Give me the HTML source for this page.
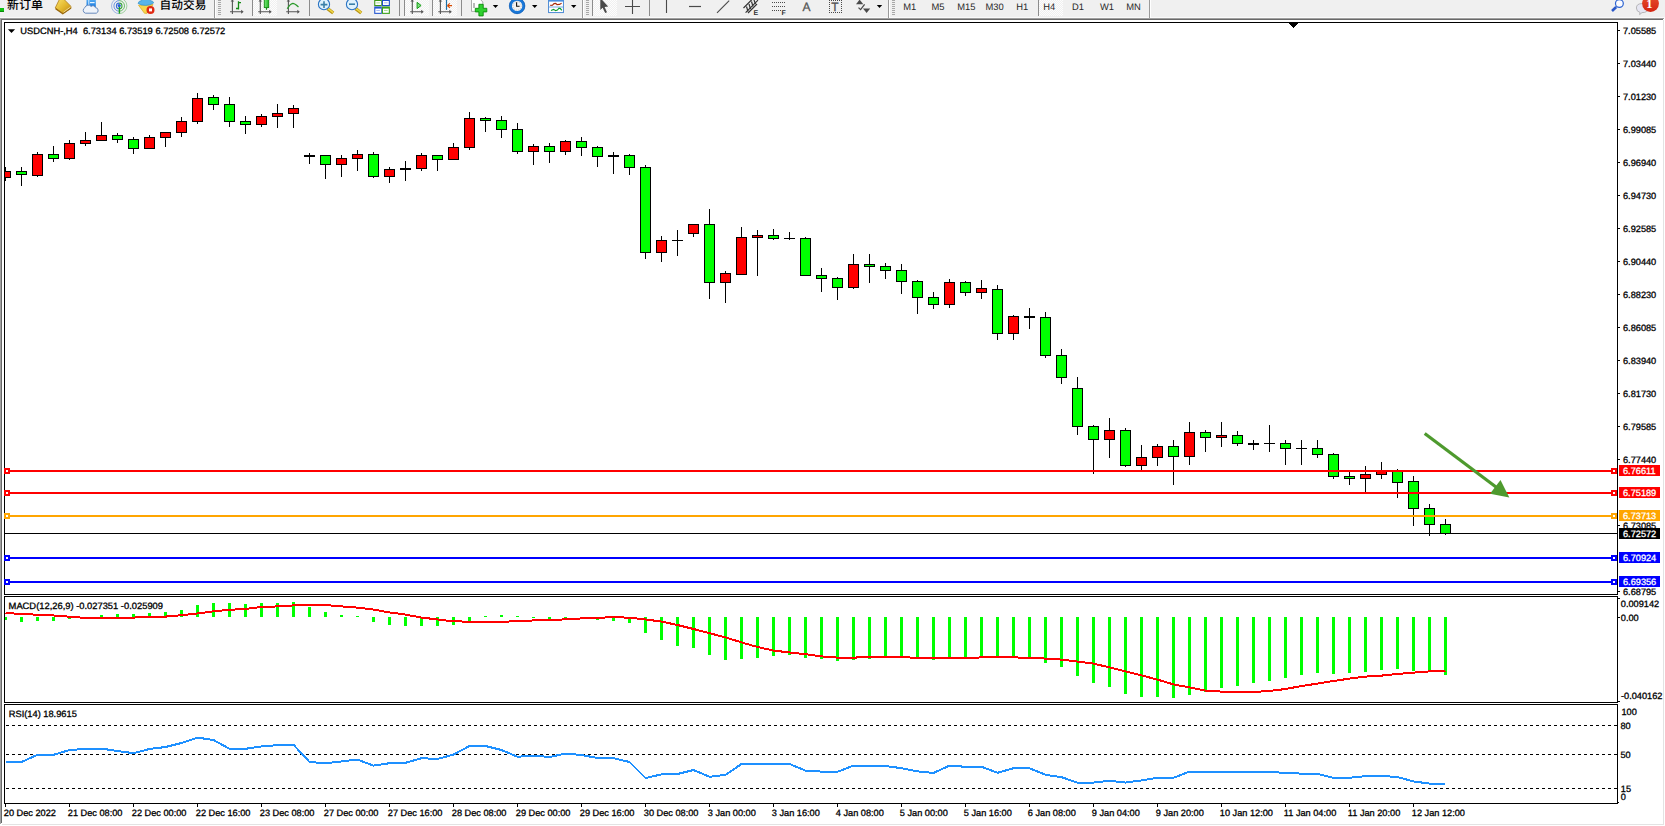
<!DOCTYPE html>
<html><head><meta charset="utf-8"><title>USDCNH H4</title>
<style>
html,body{margin:0;padding:0;background:#fff;}
body{width:1665px;height:826px;overflow:hidden;position:relative;font-family:"Liberation Sans","Noto Sans CJK SC",sans-serif;}
#tb{position:absolute;left:0;top:0;width:1665px;height:18px;background:#f0f0f0;overflow:hidden;}
#chart{position:absolute;left:0;top:0;}
#chart text{font-family:"Liberation Sans","Noto Sans CJK SC",sans-serif;}
#tb text{font-family:"Liberation Sans","Noto Sans CJK SC",sans-serif;}

</style></head><body>
<svg id="chart" width="1665" height="826" viewBox="0 0 1665 826" shape-rendering="crispEdges" text-rendering="geometricPrecision">
<rect x="0" y="18" width="1664" height="1" fill="#a0a0a0"/><rect x="0" y="19" width="1663" height="1" fill="#696969"/>
<rect x="0" y="18" width="1" height="806" fill="#a0a0a0"/><rect x="1" y="19" width="1" height="804" fill="#696969"/>
<rect x="1663" y="20" width="1" height="805" fill="#e3e3e3"/><rect x="2" y="824" width="1662" height="1" fill="#e3e3e3"/>
<rect x="4" y="22" width="1614" height="1" fill="#000"/>
<rect x="4" y="594" width="1614" height="1" fill="#000"/>
<rect x="4" y="22" width="1" height="573" fill="#000"/>
<rect x="1617" y="22" width="1" height="573" fill="#000"/>
<rect x="4" y="596" width="1614" height="1" fill="#000"/>
<rect x="4" y="702" width="1614" height="1" fill="#000"/>
<rect x="4" y="596" width="1" height="107" fill="#000"/>
<rect x="1617" y="596" width="1" height="107" fill="#000"/>
<rect x="4" y="704" width="1614" height="1" fill="#000"/>
<rect x="4" y="803" width="1614" height="1" fill="#000"/>
<rect x="4" y="704" width="1" height="100" fill="#000"/>
<rect x="1617" y="704" width="1" height="100" fill="#000"/>
<defs><clipPath id="cp"><rect x="5" y="23" width="1612" height="780"/></clipPath></defs><g clip-path="url(#cp)">
<rect x="5" y="167" width="1" height="14" fill="#000"/>
<rect x="0" y="171" width="11" height="7" fill="#000"/>
<rect x="1" y="172" width="9" height="5" fill="#ff0000"/>
<rect x="21" y="167" width="1" height="19" fill="#000"/>
<rect x="16" y="171" width="11" height="4" fill="#000"/>
<rect x="17" y="172" width="9" height="2" fill="#00ff00"/>
<rect x="37" y="152" width="1" height="25" fill="#000"/>
<rect x="32" y="154" width="11" height="22" fill="#000"/>
<rect x="33" y="155" width="9" height="20" fill="#ff0000"/>
<rect x="53" y="146" width="1" height="16" fill="#000"/>
<rect x="48" y="154" width="11" height="5" fill="#000"/>
<rect x="49" y="155" width="9" height="3" fill="#00ff00"/>
<rect x="69" y="140" width="1" height="20" fill="#000"/>
<rect x="64" y="143" width="11" height="16" fill="#000"/>
<rect x="65" y="144" width="9" height="14" fill="#ff0000"/>
<rect x="85" y="132" width="1" height="14" fill="#000"/>
<rect x="80" y="140" width="11" height="4" fill="#000"/>
<rect x="81" y="141" width="9" height="2" fill="#ff0000"/>
<rect x="101" y="122" width="1" height="19" fill="#000"/>
<rect x="96" y="135" width="11" height="6" fill="#000"/>
<rect x="97" y="136" width="9" height="4" fill="#ff0000"/>
<rect x="117" y="133" width="1" height="10" fill="#000"/>
<rect x="112" y="135" width="11" height="5" fill="#000"/>
<rect x="113" y="136" width="9" height="3" fill="#00ff00"/>
<rect x="133" y="137" width="1" height="17" fill="#000"/>
<rect x="128" y="139" width="11" height="10" fill="#000"/>
<rect x="129" y="140" width="9" height="8" fill="#00ff00"/>
<rect x="149" y="135" width="1" height="14" fill="#000"/>
<rect x="144" y="137" width="11" height="12" fill="#000"/>
<rect x="145" y="138" width="9" height="10" fill="#ff0000"/>
<rect x="165" y="132" width="1" height="15" fill="#000"/>
<rect x="160" y="132" width="11" height="6" fill="#000"/>
<rect x="161" y="133" width="9" height="4" fill="#ff0000"/>
<rect x="181" y="117" width="1" height="20" fill="#000"/>
<rect x="176" y="121" width="11" height="12" fill="#000"/>
<rect x="177" y="122" width="9" height="10" fill="#ff0000"/>
<rect x="197" y="93" width="1" height="31" fill="#000"/>
<rect x="192" y="98" width="11" height="24" fill="#000"/>
<rect x="193" y="99" width="9" height="22" fill="#ff0000"/>
<rect x="213" y="95" width="1" height="15" fill="#000"/>
<rect x="208" y="97" width="11" height="8" fill="#000"/>
<rect x="209" y="98" width="9" height="6" fill="#00ff00"/>
<rect x="229" y="97" width="1" height="30" fill="#000"/>
<rect x="224" y="104" width="11" height="18" fill="#000"/>
<rect x="225" y="105" width="9" height="16" fill="#00ff00"/>
<rect x="245" y="116" width="1" height="18" fill="#000"/>
<rect x="240" y="121" width="11" height="4" fill="#000"/>
<rect x="241" y="122" width="9" height="2" fill="#00ff00"/>
<rect x="261" y="114" width="1" height="13" fill="#000"/>
<rect x="256" y="116" width="11" height="9" fill="#000"/>
<rect x="257" y="117" width="9" height="7" fill="#ff0000"/>
<rect x="277" y="104" width="1" height="24" fill="#000"/>
<rect x="272" y="113" width="11" height="4" fill="#000"/>
<rect x="273" y="114" width="9" height="2" fill="#ff0000"/>
<rect x="293" y="105" width="1" height="23" fill="#000"/>
<rect x="288" y="108" width="11" height="6" fill="#000"/>
<rect x="289" y="109" width="9" height="4" fill="#ff0000"/>
<rect x="309" y="153" width="1" height="11" fill="#000"/>
<rect x="304" y="155" width="11" height="2" fill="#000"/>
<rect x="325" y="155" width="1" height="24" fill="#000"/>
<rect x="320" y="155" width="11" height="10" fill="#000"/>
<rect x="321" y="156" width="9" height="8" fill="#00ff00"/>
<rect x="341" y="155" width="1" height="22" fill="#000"/>
<rect x="336" y="158" width="11" height="7" fill="#000"/>
<rect x="337" y="159" width="9" height="5" fill="#ff0000"/>
<rect x="357" y="150" width="1" height="21" fill="#000"/>
<rect x="352" y="154" width="11" height="5" fill="#000"/>
<rect x="353" y="155" width="9" height="3" fill="#ff0000"/>
<rect x="373" y="152" width="1" height="26" fill="#000"/>
<rect x="368" y="154" width="11" height="23" fill="#000"/>
<rect x="369" y="155" width="9" height="21" fill="#00ff00"/>
<rect x="389" y="167" width="1" height="16" fill="#000"/>
<rect x="384" y="169" width="11" height="8" fill="#000"/>
<rect x="385" y="170" width="9" height="6" fill="#ff0000"/>
<rect x="405" y="161" width="1" height="20" fill="#000"/>
<rect x="400" y="168" width="11" height="2" fill="#000"/>
<rect x="421" y="153" width="1" height="18" fill="#000"/>
<rect x="416" y="155" width="11" height="14" fill="#000"/>
<rect x="417" y="156" width="9" height="12" fill="#ff0000"/>
<rect x="437" y="155" width="1" height="16" fill="#000"/>
<rect x="432" y="155" width="11" height="5" fill="#000"/>
<rect x="433" y="156" width="9" height="3" fill="#00ff00"/>
<rect x="453" y="143" width="1" height="17" fill="#000"/>
<rect x="448" y="147" width="11" height="13" fill="#000"/>
<rect x="449" y="148" width="9" height="11" fill="#ff0000"/>
<rect x="469" y="112" width="1" height="38" fill="#000"/>
<rect x="464" y="118" width="11" height="30" fill="#000"/>
<rect x="465" y="119" width="9" height="28" fill="#ff0000"/>
<rect x="485" y="117" width="1" height="15" fill="#000"/>
<rect x="480" y="118" width="11" height="3" fill="#000"/>
<rect x="481" y="119" width="9" height="1" fill="#00ff00"/>
<rect x="501" y="116" width="1" height="22" fill="#000"/>
<rect x="496" y="120" width="11" height="10" fill="#000"/>
<rect x="497" y="121" width="9" height="8" fill="#00ff00"/>
<rect x="517" y="123" width="1" height="31" fill="#000"/>
<rect x="512" y="129" width="11" height="23" fill="#000"/>
<rect x="513" y="130" width="9" height="21" fill="#00ff00"/>
<rect x="533" y="144" width="1" height="21" fill="#000"/>
<rect x="528" y="146" width="11" height="6" fill="#000"/>
<rect x="529" y="147" width="9" height="4" fill="#ff0000"/>
<rect x="549" y="143" width="1" height="20" fill="#000"/>
<rect x="544" y="146" width="11" height="6" fill="#000"/>
<rect x="545" y="147" width="9" height="4" fill="#00ff00"/>
<rect x="565" y="140" width="1" height="15" fill="#000"/>
<rect x="560" y="141" width="11" height="11" fill="#000"/>
<rect x="561" y="142" width="9" height="9" fill="#ff0000"/>
<rect x="581" y="137" width="1" height="19" fill="#000"/>
<rect x="576" y="141" width="11" height="7" fill="#000"/>
<rect x="577" y="142" width="9" height="5" fill="#00ff00"/>
<rect x="597" y="146" width="1" height="21" fill="#000"/>
<rect x="592" y="147" width="11" height="10" fill="#000"/>
<rect x="593" y="148" width="9" height="8" fill="#00ff00"/>
<rect x="613" y="152" width="1" height="22" fill="#000"/>
<rect x="608" y="155" width="11" height="2" fill="#000"/>
<rect x="629" y="154" width="1" height="21" fill="#000"/>
<rect x="624" y="155" width="11" height="13" fill="#000"/>
<rect x="625" y="156" width="9" height="11" fill="#00ff00"/>
<rect x="645" y="165" width="1" height="94" fill="#000"/>
<rect x="640" y="167" width="11" height="86" fill="#000"/>
<rect x="641" y="168" width="9" height="84" fill="#00ff00"/>
<rect x="661" y="236" width="1" height="26" fill="#000"/>
<rect x="656" y="240" width="11" height="13" fill="#000"/>
<rect x="657" y="241" width="9" height="11" fill="#ff0000"/>
<rect x="677" y="230" width="1" height="26" fill="#000"/>
<rect x="672" y="240" width="11" height="1" fill="#000"/>
<rect x="693" y="224" width="1" height="13" fill="#000"/>
<rect x="688" y="224" width="11" height="10" fill="#000"/>
<rect x="689" y="225" width="9" height="8" fill="#ff0000"/>
<rect x="709" y="209" width="1" height="90" fill="#000"/>
<rect x="704" y="224" width="11" height="59" fill="#000"/>
<rect x="705" y="225" width="9" height="57" fill="#00ff00"/>
<rect x="725" y="271" width="1" height="32" fill="#000"/>
<rect x="720" y="273" width="11" height="10" fill="#000"/>
<rect x="721" y="274" width="9" height="8" fill="#ff0000"/>
<rect x="741" y="227" width="1" height="48" fill="#000"/>
<rect x="736" y="237" width="11" height="38" fill="#000"/>
<rect x="737" y="238" width="9" height="36" fill="#ff0000"/>
<rect x="757" y="230" width="1" height="46" fill="#000"/>
<rect x="752" y="235" width="11" height="3" fill="#000"/>
<rect x="753" y="236" width="9" height="1" fill="#ff0000"/>
<rect x="773" y="229" width="1" height="11" fill="#000"/>
<rect x="768" y="235" width="11" height="4" fill="#000"/>
<rect x="769" y="236" width="9" height="2" fill="#00ff00"/>
<rect x="789" y="232" width="1" height="8" fill="#000"/>
<rect x="784" y="238" width="11" height="1" fill="#000"/>
<rect x="805" y="237" width="1" height="39" fill="#000"/>
<rect x="800" y="238" width="11" height="38" fill="#000"/>
<rect x="801" y="239" width="9" height="36" fill="#00ff00"/>
<rect x="821" y="268" width="1" height="24" fill="#000"/>
<rect x="816" y="275" width="11" height="4" fill="#000"/>
<rect x="817" y="276" width="9" height="2" fill="#00ff00"/>
<rect x="837" y="277" width="1" height="23" fill="#000"/>
<rect x="832" y="278" width="11" height="10" fill="#000"/>
<rect x="833" y="279" width="9" height="8" fill="#00ff00"/>
<rect x="853" y="254" width="1" height="35" fill="#000"/>
<rect x="848" y="264" width="11" height="24" fill="#000"/>
<rect x="849" y="265" width="9" height="22" fill="#ff0000"/>
<rect x="869" y="254" width="1" height="29" fill="#000"/>
<rect x="864" y="264" width="11" height="3" fill="#000"/>
<rect x="865" y="265" width="9" height="1" fill="#00ff00"/>
<rect x="885" y="263" width="1" height="16" fill="#000"/>
<rect x="880" y="266" width="11" height="5" fill="#000"/>
<rect x="881" y="267" width="9" height="3" fill="#00ff00"/>
<rect x="901" y="264" width="1" height="30" fill="#000"/>
<rect x="896" y="270" width="11" height="12" fill="#000"/>
<rect x="897" y="271" width="9" height="10" fill="#00ff00"/>
<rect x="917" y="280" width="1" height="34" fill="#000"/>
<rect x="912" y="281" width="11" height="17" fill="#000"/>
<rect x="913" y="282" width="9" height="15" fill="#00ff00"/>
<rect x="933" y="292" width="1" height="17" fill="#000"/>
<rect x="928" y="297" width="11" height="8" fill="#000"/>
<rect x="929" y="298" width="9" height="6" fill="#00ff00"/>
<rect x="949" y="279" width="1" height="29" fill="#000"/>
<rect x="944" y="282" width="11" height="23" fill="#000"/>
<rect x="945" y="283" width="9" height="21" fill="#ff0000"/>
<rect x="965" y="281" width="1" height="15" fill="#000"/>
<rect x="960" y="282" width="11" height="11" fill="#000"/>
<rect x="961" y="283" width="9" height="9" fill="#00ff00"/>
<rect x="981" y="280" width="1" height="19" fill="#000"/>
<rect x="976" y="288" width="11" height="5" fill="#000"/>
<rect x="977" y="289" width="9" height="3" fill="#ff0000"/>
<rect x="997" y="285" width="1" height="55" fill="#000"/>
<rect x="992" y="289" width="11" height="45" fill="#000"/>
<rect x="993" y="290" width="9" height="43" fill="#00ff00"/>
<rect x="1013" y="315" width="1" height="25" fill="#000"/>
<rect x="1008" y="316" width="11" height="18" fill="#000"/>
<rect x="1009" y="317" width="9" height="16" fill="#ff0000"/>
<rect x="1029" y="308" width="1" height="21" fill="#000"/>
<rect x="1024" y="316" width="11" height="2" fill="#000"/>
<rect x="1045" y="312" width="1" height="46" fill="#000"/>
<rect x="1040" y="317" width="11" height="39" fill="#000"/>
<rect x="1041" y="318" width="9" height="37" fill="#00ff00"/>
<rect x="1061" y="349" width="1" height="35" fill="#000"/>
<rect x="1056" y="355" width="11" height="23" fill="#000"/>
<rect x="1057" y="356" width="9" height="21" fill="#00ff00"/>
<rect x="1077" y="377" width="1" height="58" fill="#000"/>
<rect x="1072" y="388" width="11" height="39" fill="#000"/>
<rect x="1073" y="389" width="9" height="37" fill="#00ff00"/>
<rect x="1093" y="425" width="1" height="49" fill="#000"/>
<rect x="1088" y="426" width="11" height="14" fill="#000"/>
<rect x="1089" y="427" width="9" height="12" fill="#00ff00"/>
<rect x="1109" y="418" width="1" height="40" fill="#000"/>
<rect x="1104" y="430" width="11" height="10" fill="#000"/>
<rect x="1105" y="431" width="9" height="8" fill="#ff0000"/>
<rect x="1125" y="428" width="1" height="39" fill="#000"/>
<rect x="1120" y="430" width="11" height="36" fill="#000"/>
<rect x="1121" y="431" width="9" height="34" fill="#00ff00"/>
<rect x="1141" y="445" width="1" height="27" fill="#000"/>
<rect x="1136" y="457" width="11" height="9" fill="#000"/>
<rect x="1137" y="458" width="9" height="7" fill="#ff0000"/>
<rect x="1157" y="444" width="1" height="22" fill="#000"/>
<rect x="1152" y="446" width="11" height="12" fill="#000"/>
<rect x="1153" y="447" width="9" height="10" fill="#ff0000"/>
<rect x="1173" y="440" width="1" height="45" fill="#000"/>
<rect x="1168" y="446" width="11" height="11" fill="#000"/>
<rect x="1169" y="447" width="9" height="9" fill="#00ff00"/>
<rect x="1189" y="422" width="1" height="43" fill="#000"/>
<rect x="1184" y="432" width="11" height="25" fill="#000"/>
<rect x="1185" y="433" width="9" height="23" fill="#ff0000"/>
<rect x="1205" y="430" width="1" height="22" fill="#000"/>
<rect x="1200" y="432" width="11" height="6" fill="#000"/>
<rect x="1201" y="433" width="9" height="4" fill="#00ff00"/>
<rect x="1221" y="422" width="1" height="25" fill="#000"/>
<rect x="1216" y="435" width="11" height="3" fill="#000"/>
<rect x="1217" y="436" width="9" height="1" fill="#ff0000"/>
<rect x="1237" y="431" width="1" height="15" fill="#000"/>
<rect x="1232" y="435" width="11" height="9" fill="#000"/>
<rect x="1233" y="436" width="9" height="7" fill="#00ff00"/>
<rect x="1253" y="440" width="1" height="10" fill="#000"/>
<rect x="1248" y="443" width="11" height="2" fill="#000"/>
<rect x="1269" y="425" width="1" height="27" fill="#000"/>
<rect x="1264" y="443" width="11" height="1" fill="#000"/>
<rect x="1285" y="440" width="1" height="25" fill="#000"/>
<rect x="1280" y="443" width="11" height="6" fill="#000"/>
<rect x="1281" y="444" width="9" height="4" fill="#00ff00"/>
<rect x="1301" y="440" width="1" height="25" fill="#000"/>
<rect x="1296" y="448" width="11" height="1" fill="#000"/>
<rect x="1317" y="440" width="1" height="18" fill="#000"/>
<rect x="1312" y="448" width="11" height="7" fill="#000"/>
<rect x="1313" y="449" width="9" height="5" fill="#00ff00"/>
<rect x="1333" y="453" width="1" height="26" fill="#000"/>
<rect x="1328" y="454" width="11" height="23" fill="#000"/>
<rect x="1329" y="455" width="9" height="21" fill="#00ff00"/>
<rect x="1349" y="472" width="1" height="13" fill="#000"/>
<rect x="1344" y="476" width="11" height="3" fill="#000"/>
<rect x="1345" y="477" width="9" height="1" fill="#00ff00"/>
<rect x="1365" y="466" width="1" height="26" fill="#000"/>
<rect x="1360" y="474" width="11" height="5" fill="#000"/>
<rect x="1361" y="475" width="9" height="3" fill="#ff0000"/>
<rect x="1381" y="462" width="1" height="17" fill="#000"/>
<rect x="1376" y="470" width="11" height="5" fill="#000"/>
<rect x="1377" y="471" width="9" height="3" fill="#ff0000"/>
<rect x="1397" y="469" width="1" height="29" fill="#000"/>
<rect x="1392" y="471" width="11" height="12" fill="#000"/>
<rect x="1393" y="472" width="9" height="10" fill="#00ff00"/>
<rect x="1413" y="476" width="1" height="50" fill="#000"/>
<rect x="1408" y="481" width="11" height="28" fill="#000"/>
<rect x="1409" y="482" width="9" height="26" fill="#00ff00"/>
<rect x="1429" y="504" width="1" height="32" fill="#000"/>
<rect x="1424" y="508" width="11" height="17" fill="#000"/>
<rect x="1425" y="509" width="9" height="15" fill="#00ff00"/>
<rect x="1445" y="519" width="1" height="16" fill="#000"/>
<rect x="1440" y="524" width="11" height="10" fill="#000"/>
<rect x="1441" y="525" width="9" height="8" fill="#00ff00"/>
</g>
<rect x="5" y="533" width="1612" height="1" fill="#000"/>
<rect x="5" y="470" width="1612" height="2" fill="#ff0000"/>
<rect x="4" y="468" width="6" height="6" fill="#ff0000"/>
<rect x="6" y="470" width="2" height="2" fill="#fff"/>
<rect x="1611" y="468" width="6" height="6" fill="#ff0000"/>
<rect x="1613" y="470" width="2" height="2" fill="#fff"/>
<rect x="5" y="492" width="1612" height="2" fill="#ff0000"/>
<rect x="4" y="490" width="6" height="6" fill="#ff0000"/>
<rect x="6" y="492" width="2" height="2" fill="#fff"/>
<rect x="1611" y="490" width="6" height="6" fill="#ff0000"/>
<rect x="1613" y="492" width="2" height="2" fill="#fff"/>
<rect x="5" y="515" width="1612" height="2" fill="#ffa500"/>
<rect x="4" y="513" width="6" height="6" fill="#ffa500"/>
<rect x="6" y="515" width="2" height="2" fill="#fff"/>
<rect x="1611" y="513" width="6" height="6" fill="#ffa500"/>
<rect x="1613" y="515" width="2" height="2" fill="#fff"/>
<rect x="5" y="557" width="1612" height="2" fill="#0000ff"/>
<rect x="4" y="555" width="6" height="6" fill="#0000ff"/>
<rect x="6" y="557" width="2" height="2" fill="#fff"/>
<rect x="1611" y="555" width="6" height="6" fill="#0000ff"/>
<rect x="1613" y="557" width="2" height="2" fill="#fff"/>
<rect x="5" y="581" width="1612" height="2" fill="#0000ff"/>
<rect x="4" y="579" width="6" height="6" fill="#0000ff"/>
<rect x="6" y="581" width="2" height="2" fill="#fff"/>
<rect x="1611" y="579" width="6" height="6" fill="#0000ff"/>
<rect x="1613" y="581" width="2" height="2" fill="#fff"/>
<g shape-rendering="geometricPrecision"><line x1="1424.7" y1="433.5" x2="1497" y2="487.8" stroke="#4e9a2e" stroke-width="3.2"/><polygon points="1509.3,497.6 1500.5,479.9 1490,493.8" fill="#4e9a2e"/></g>
<rect x="5" y="617" width="2" height="3" fill="#00ff00"/>
<rect x="20" y="617" width="3" height="5" fill="#00ff00"/>
<rect x="36" y="617" width="3" height="4" fill="#00ff00"/>
<rect x="52" y="617" width="3" height="4" fill="#00ff00"/>
<rect x="68" y="617" width="3" height="2" fill="#00ff00"/>
<rect x="84" y="617" width="3" height="1" fill="#00ff00"/>
<rect x="100" y="615" width="3" height="2" fill="#00ff00"/>
<rect x="116" y="614" width="3" height="3" fill="#00ff00"/>
<rect x="132" y="614" width="3" height="3" fill="#00ff00"/>
<rect x="148" y="613" width="3" height="4" fill="#00ff00"/>
<rect x="164" y="612" width="3" height="5" fill="#00ff00"/>
<rect x="180" y="610" width="3" height="7" fill="#00ff00"/>
<rect x="196" y="605" width="3" height="12" fill="#00ff00"/>
<rect x="212" y="603" width="3" height="14" fill="#00ff00"/>
<rect x="228" y="603" width="3" height="14" fill="#00ff00"/>
<rect x="244" y="604" width="3" height="13" fill="#00ff00"/>
<rect x="260" y="603" width="3" height="14" fill="#00ff00"/>
<rect x="276" y="603" width="3" height="14" fill="#00ff00"/>
<rect x="292" y="602" width="3" height="15" fill="#00ff00"/>
<rect x="308" y="607" width="3" height="10" fill="#00ff00"/>
<rect x="324" y="612" width="3" height="5" fill="#00ff00"/>
<rect x="340" y="615" width="3" height="2" fill="#00ff00"/>
<rect x="356" y="616" width="3" height="1" fill="#00ff00"/>
<rect x="372" y="617" width="3" height="5" fill="#00ff00"/>
<rect x="388" y="617" width="3" height="8" fill="#00ff00"/>
<rect x="404" y="617" width="3" height="9" fill="#00ff00"/>
<rect x="420" y="617" width="3" height="9" fill="#00ff00"/>
<rect x="436" y="617" width="3" height="9" fill="#00ff00"/>
<rect x="452" y="617" width="3" height="8" fill="#00ff00"/>
<rect x="468" y="617" width="3" height="4" fill="#00ff00"/>
<rect x="484" y="616" width="3" height="1" fill="#00ff00"/>
<rect x="500" y="615" width="3" height="2" fill="#00ff00"/>
<rect x="516" y="616" width="3" height="1" fill="#00ff00"/>
<rect x="532" y="617" width="3" height="1" fill="#00ff00"/>
<rect x="548" y="617" width="3" height="3" fill="#00ff00"/>
<rect x="564" y="617" width="3" height="1" fill="#00ff00"/>
<rect x="580" y="617" width="3" height="1" fill="#00ff00"/>
<rect x="596" y="617" width="3" height="3" fill="#00ff00"/>
<rect x="612" y="617" width="3" height="4" fill="#00ff00"/>
<rect x="628" y="617" width="3" height="6" fill="#00ff00"/>
<rect x="644" y="617" width="3" height="16" fill="#00ff00"/>
<rect x="660" y="617" width="3" height="23" fill="#00ff00"/>
<rect x="676" y="617" width="3" height="29" fill="#00ff00"/>
<rect x="692" y="617" width="3" height="31" fill="#00ff00"/>
<rect x="708" y="617" width="3" height="38" fill="#00ff00"/>
<rect x="724" y="617" width="3" height="43" fill="#00ff00"/>
<rect x="740" y="617" width="3" height="42" fill="#00ff00"/>
<rect x="756" y="617" width="3" height="41" fill="#00ff00"/>
<rect x="772" y="617" width="3" height="39" fill="#00ff00"/>
<rect x="788" y="617" width="3" height="38" fill="#00ff00"/>
<rect x="804" y="617" width="3" height="41" fill="#00ff00"/>
<rect x="820" y="617" width="3" height="42" fill="#00ff00"/>
<rect x="836" y="617" width="3" height="44" fill="#00ff00"/>
<rect x="852" y="617" width="3" height="43" fill="#00ff00"/>
<rect x="868" y="617" width="3" height="42" fill="#00ff00"/>
<rect x="884" y="617" width="3" height="39" fill="#00ff00"/>
<rect x="900" y="617" width="3" height="39" fill="#00ff00"/>
<rect x="916" y="617" width="3" height="41" fill="#00ff00"/>
<rect x="932" y="617" width="3" height="43" fill="#00ff00"/>
<rect x="948" y="617" width="3" height="41" fill="#00ff00"/>
<rect x="964" y="617" width="3" height="40" fill="#00ff00"/>
<rect x="980" y="617" width="3" height="39" fill="#00ff00"/>
<rect x="996" y="617" width="3" height="41" fill="#00ff00"/>
<rect x="1012" y="617" width="3" height="41" fill="#00ff00"/>
<rect x="1028" y="617" width="3" height="41" fill="#00ff00"/>
<rect x="1044" y="617" width="3" height="46" fill="#00ff00"/>
<rect x="1060" y="617" width="3" height="50" fill="#00ff00"/>
<rect x="1076" y="617" width="3" height="59" fill="#00ff00"/>
<rect x="1092" y="617" width="3" height="66" fill="#00ff00"/>
<rect x="1108" y="617" width="3" height="70" fill="#00ff00"/>
<rect x="1124" y="617" width="3" height="77" fill="#00ff00"/>
<rect x="1140" y="617" width="3" height="80" fill="#00ff00"/>
<rect x="1156" y="617" width="3" height="80" fill="#00ff00"/>
<rect x="1172" y="617" width="3" height="81" fill="#00ff00"/>
<rect x="1188" y="617" width="3" height="78" fill="#00ff00"/>
<rect x="1204" y="617" width="3" height="75" fill="#00ff00"/>
<rect x="1220" y="617" width="3" height="71" fill="#00ff00"/>
<rect x="1236" y="617" width="3" height="69" fill="#00ff00"/>
<rect x="1252" y="617" width="3" height="66" fill="#00ff00"/>
<rect x="1268" y="617" width="3" height="64" fill="#00ff00"/>
<rect x="1284" y="617" width="3" height="61" fill="#00ff00"/>
<rect x="1300" y="617" width="3" height="58" fill="#00ff00"/>
<rect x="1316" y="617" width="3" height="56" fill="#00ff00"/>
<rect x="1332" y="617" width="3" height="57" fill="#00ff00"/>
<rect x="1348" y="617" width="3" height="56" fill="#00ff00"/>
<rect x="1364" y="617" width="3" height="55" fill="#00ff00"/>
<rect x="1380" y="617" width="3" height="53" fill="#00ff00"/>
<rect x="1396" y="617" width="3" height="52" fill="#00ff00"/>
<rect x="1412" y="617" width="3" height="54" fill="#00ff00"/>
<rect x="1428" y="617" width="3" height="55" fill="#00ff00"/>
<rect x="1444" y="617" width="3" height="58" fill="#00ff00"/>
<polyline points="5.5,613.2 21.5,613.8 37.5,614.8 53.5,615.5 69.5,616.7 85.5,617.9 101.5,617.9 117.5,617.9 133.5,617.6 149.5,616.8 165.5,616.6 181.5,615.2 197.5,613.5 213.5,611.3 229.5,609.8 245.5,609.0 261.5,607.0 277.5,606.4 293.5,605.4 309.5,604.6 325.5,605.0 341.5,606.4 357.5,607.6 373.5,609.6 389.5,612.4 405.5,614.6 421.5,617.6 437.5,619.4 453.5,621.4 469.5,621.6 485.5,621.6 501.5,621.6 517.5,621.4 533.5,620.4 549.5,619.9 565.5,619.4 581.5,618.4 597.5,618.0 613.5,617.0 629.5,617.8 645.5,619.4 661.5,621.6 677.5,625.0 693.5,629.0 709.5,633.2 725.5,637.4 741.5,642.4 757.5,647.0 773.5,650.6 789.5,652.4 805.5,654.2 821.5,656.4 837.5,657.6 853.5,657.6 869.5,657.1 885.5,657.2 901.5,657.2 917.5,657.8 933.5,658.0 949.5,658.0 965.5,658.0 981.5,657.4 997.5,657.4 1013.5,657.4 1029.5,657.8 1045.5,658.6 1061.5,659.6 1077.5,661.6 1093.5,663.6 1109.5,667.4 1125.5,671.4 1141.5,675.4 1157.5,679.6 1173.5,684.4 1189.5,687.4 1205.5,690.6 1221.5,691.6 1237.5,692.0 1253.5,692.0 1269.5,691.0 1285.5,689.0 1301.5,686.0 1317.5,683.6 1333.5,681.0 1349.5,678.6 1365.5,676.6 1381.5,675.6 1397.5,674.0 1413.5,672.6 1429.5,671.4 1445.5,670.8" fill="none" stroke="#ff0000" stroke-width="2" shape-rendering="crispEdges"/>
<line x1="6" y1="725.5" x2="1617" y2="725.5" stroke="#000" stroke-width="1" stroke-dasharray="3 3"/>
<line x1="6" y1="754.5" x2="1617" y2="754.5" stroke="#000" stroke-width="1" stroke-dasharray="3 3"/>
<line x1="6" y1="788.5" x2="1617" y2="788.5" stroke="#000" stroke-width="1" stroke-dasharray="3 3"/>
<polyline points="5.5,762.0 21.5,762.0 37.5,754.8 53.5,754.8 69.5,750.0 85.5,749.0 101.5,748.6 117.5,751.0 133.5,753.2 149.5,749.0 165.5,747.0 181.5,743.0 197.5,737.6 213.5,740.0 229.5,748.8 245.5,748.8 261.5,746.4 277.5,745.2 293.5,744.8 309.5,762.0 325.5,763.2 341.5,761.4 357.5,759.6 373.5,765.6 389.5,763.2 405.5,762.8 421.5,758.2 437.5,759.0 453.5,754.6 469.5,746.0 485.5,746.0 501.5,750.0 517.5,756.8 533.5,755.6 549.5,757.0 565.5,753.6 581.5,755.0 597.5,758.0 613.5,758.2 629.5,762.0 645.5,778.0 661.5,774.4 677.5,774.0 693.5,770.0 709.5,776.8 725.5,774.8 741.5,764.0 757.5,764.0 773.5,764.0 789.5,764.0 805.5,770.6 821.5,771.6 837.5,771.8 853.5,765.6 869.5,765.6 885.5,766.0 901.5,768.2 917.5,771.4 933.5,773.0 949.5,765.6 965.5,766.8 981.5,766.8 997.5,772.8 1013.5,768.2 1029.5,768.2 1045.5,774.8 1061.5,777.2 1077.5,782.6 1093.5,782.6 1109.5,780.8 1125.5,782.6 1141.5,780.4 1157.5,777.8 1173.5,777.8 1189.5,771.6 1205.5,771.6 1221.5,771.6 1237.5,771.6 1253.5,771.6 1269.5,771.8 1285.5,773.0 1301.5,773.6 1317.5,774.0 1333.5,777.8 1349.5,777.8 1365.5,776.2 1381.5,776.0 1397.5,777.0 1413.5,781.4 1429.5,783.6 1445.5,783.8" fill="none" stroke="#1e90ff" stroke-width="2" shape-rendering="crispEdges"/>
<rect x="1289" y="23" width="9" height="1" fill="#000"/>
<rect x="1290" y="24" width="7" height="1" fill="#000"/>
<rect x="1291" y="25" width="5" height="1" fill="#000"/>
<rect x="1292" y="26" width="3" height="1" fill="#000"/>
<rect x="1293" y="27" width="1" height="1" fill="#000"/>
<rect x="1618" y="802" width="1" height="1" fill="#000"/>
<rect x="1618" y="30" width="2" height="1" fill="#000"/>
<text x="1623" y="34" font-size="9.2" fill="#000" stroke="#000" stroke-width="0.3" text-anchor="start" >7.05585</text>
<rect x="1618" y="63" width="2" height="1" fill="#000"/>
<text x="1623" y="67" font-size="9.2" fill="#000" stroke="#000" stroke-width="0.3" text-anchor="start" >7.03440</text>
<rect x="1618" y="96" width="2" height="1" fill="#000"/>
<text x="1623" y="100" font-size="9.2" fill="#000" stroke="#000" stroke-width="0.3" text-anchor="start" >7.01230</text>
<rect x="1618" y="129" width="2" height="1" fill="#000"/>
<text x="1623" y="133" font-size="9.2" fill="#000" stroke="#000" stroke-width="0.3" text-anchor="start" >6.99085</text>
<rect x="1618" y="162" width="2" height="1" fill="#000"/>
<text x="1623" y="166" font-size="9.2" fill="#000" stroke="#000" stroke-width="0.3" text-anchor="start" >6.96940</text>
<rect x="1618" y="195" width="2" height="1" fill="#000"/>
<text x="1623" y="199" font-size="9.2" fill="#000" stroke="#000" stroke-width="0.3" text-anchor="start" >6.94730</text>
<rect x="1618" y="228" width="2" height="1" fill="#000"/>
<text x="1623" y="232" font-size="9.2" fill="#000" stroke="#000" stroke-width="0.3" text-anchor="start" >6.92585</text>
<rect x="1618" y="261" width="2" height="1" fill="#000"/>
<text x="1623" y="265" font-size="9.2" fill="#000" stroke="#000" stroke-width="0.3" text-anchor="start" >6.90440</text>
<rect x="1618" y="294" width="2" height="1" fill="#000"/>
<text x="1623" y="298" font-size="9.2" fill="#000" stroke="#000" stroke-width="0.3" text-anchor="start" >6.88230</text>
<rect x="1618" y="327" width="2" height="1" fill="#000"/>
<text x="1623" y="331" font-size="9.2" fill="#000" stroke="#000" stroke-width="0.3" text-anchor="start" >6.86085</text>
<rect x="1618" y="360" width="2" height="1" fill="#000"/>
<text x="1623" y="364" font-size="9.2" fill="#000" stroke="#000" stroke-width="0.3" text-anchor="start" >6.83940</text>
<rect x="1618" y="393" width="2" height="1" fill="#000"/>
<text x="1623" y="397" font-size="9.2" fill="#000" stroke="#000" stroke-width="0.3" text-anchor="start" >6.81730</text>
<rect x="1618" y="426" width="2" height="1" fill="#000"/>
<text x="1623" y="430" font-size="9.2" fill="#000" stroke="#000" stroke-width="0.3" text-anchor="start" >6.79585</text>
<rect x="1618" y="459" width="2" height="1" fill="#000"/>
<text x="1623" y="463" font-size="9.2" fill="#000" stroke="#000" stroke-width="0.3" text-anchor="start" >6.77440</text>
<rect x="1618" y="525" width="2" height="1" fill="#000"/>
<text x="1623" y="529" font-size="9.2" fill="#000" stroke="#000" stroke-width="0.3" text-anchor="start" >6.73085</text>
<rect x="1618" y="591" width="2" height="1" fill="#000"/>
<text x="1623" y="595" font-size="9.2" fill="#000" stroke="#000" stroke-width="0.3" text-anchor="start" >6.68795</text>
<rect x="1619" y="465" width="41" height="11" fill="#ff0000"/>
<text x="1623" y="474" font-size="9.2" fill="#fff" stroke="#fff" stroke-width="0.3" text-anchor="start" >6.76611</text>
<rect x="1619" y="487" width="41" height="11" fill="#ff0000"/>
<text x="1623" y="496" font-size="9.2" fill="#fff" stroke="#fff" stroke-width="0.3" text-anchor="start" >6.75189</text>
<rect x="1619" y="510" width="41" height="11" fill="#ffa500"/>
<text x="1623" y="519" font-size="9.2" fill="#fff" stroke="#fff" stroke-width="0.3" text-anchor="start" >6.73713</text>
<rect x="1619" y="552" width="41" height="11" fill="#0000ff"/>
<text x="1623" y="561" font-size="9.2" fill="#fff" stroke="#fff" stroke-width="0.3" text-anchor="start" >6.70924</text>
<rect x="1619" y="576" width="41" height="11" fill="#0000ff"/>
<text x="1623" y="585" font-size="9.2" fill="#fff" stroke="#fff" stroke-width="0.3" text-anchor="start" >6.69356</text>
<rect x="1619" y="528" width="41" height="11" fill="#000000"/>
<text x="1623" y="537" font-size="9.2" fill="#fff" stroke="#fff" stroke-width="0.3" text-anchor="start" >6.72572</text>
<text x="1620.8" y="607" font-size="9.2" fill="#000" stroke="#000" stroke-width="0.3" text-anchor="start" >0.009142</text>
<rect x="1618" y="598" width="2" height="1" fill="#000"/>
<text x="1620.8" y="621" font-size="9.2" fill="#000" stroke="#000" stroke-width="0.3" text-anchor="start" >0.00</text>
<rect x="1618" y="617" width="2" height="1" fill="#000"/>
<text x="1621" y="699" font-size="9.2" fill="#000" stroke="#000" stroke-width="0.3" text-anchor="start" >-0.040162</text>
<rect x="1618" y="701" width="2" height="1" fill="#000"/>
<text x="1621.5" y="715" font-size="9.2" fill="#000" stroke="#000" stroke-width="0.3" text-anchor="start" >100</text>
<text x="1620.5" y="729" font-size="9.2" fill="#000" stroke="#000" stroke-width="0.3" text-anchor="start" >80</text>
<text x="1620.5" y="758" font-size="9.2" fill="#000" stroke="#000" stroke-width="0.3" text-anchor="start" >50</text>
<text x="1620.8" y="792" font-size="9.2" fill="#000" stroke="#000" stroke-width="0.3" text-anchor="start" >15</text>
<text x="1620.8" y="800" font-size="9.2" fill="#000" stroke="#000" stroke-width="0.3" text-anchor="start" >0</text>
<polygon points="7.9,29.2 15.1,29.2 11.5,33" fill="#000" shape-rendering="geometricPrecision"/>
<text x="20.3" y="34" font-size="9.2" fill="#000" stroke="#000" stroke-width="0.3" text-anchor="start" textLength="205" lengthAdjust="spacingAndGlyphs">USDCNH-,H4&#160;&#160;6.73134 6.73519 6.72508 6.72572</text>
<text x="8.6" y="609" font-size="9.2" fill="#000" stroke="#000" stroke-width="0.3" text-anchor="start" textLength="154.4" lengthAdjust="spacingAndGlyphs">MACD(12,26,9) -0.027351 -0.025909</text>
<text x="8.8" y="717" font-size="9.2" fill="#000" stroke="#000" stroke-width="0.3" text-anchor="start" textLength="68" lengthAdjust="spacingAndGlyphs">RSI(14) 18.9615</text>
<rect x="5" y="804" width="1" height="3" fill="#000"/>
<text x="3.8" y="816" font-size="9.2" fill="#000" stroke="#000" stroke-width="0.3" text-anchor="start" >20 Dec 2022</text>
<rect x="69" y="804" width="1" height="3" fill="#000"/>
<text x="67.8" y="816" font-size="9.2" fill="#000" stroke="#000" stroke-width="0.3" text-anchor="start" >21 Dec 08:00</text>
<rect x="133" y="804" width="1" height="3" fill="#000"/>
<text x="131.8" y="816" font-size="9.2" fill="#000" stroke="#000" stroke-width="0.3" text-anchor="start" >22 Dec 00:00</text>
<rect x="197" y="804" width="1" height="3" fill="#000"/>
<text x="195.8" y="816" font-size="9.2" fill="#000" stroke="#000" stroke-width="0.3" text-anchor="start" >22 Dec 16:00</text>
<rect x="261" y="804" width="1" height="3" fill="#000"/>
<text x="259.8" y="816" font-size="9.2" fill="#000" stroke="#000" stroke-width="0.3" text-anchor="start" >23 Dec 08:00</text>
<rect x="325" y="804" width="1" height="3" fill="#000"/>
<text x="323.8" y="816" font-size="9.2" fill="#000" stroke="#000" stroke-width="0.3" text-anchor="start" >27 Dec 00:00</text>
<rect x="389" y="804" width="1" height="3" fill="#000"/>
<text x="387.8" y="816" font-size="9.2" fill="#000" stroke="#000" stroke-width="0.3" text-anchor="start" >27 Dec 16:00</text>
<rect x="453" y="804" width="1" height="3" fill="#000"/>
<text x="451.8" y="816" font-size="9.2" fill="#000" stroke="#000" stroke-width="0.3" text-anchor="start" >28 Dec 08:00</text>
<rect x="517" y="804" width="1" height="3" fill="#000"/>
<text x="515.8" y="816" font-size="9.2" fill="#000" stroke="#000" stroke-width="0.3" text-anchor="start" >29 Dec 00:00</text>
<rect x="581" y="804" width="1" height="3" fill="#000"/>
<text x="579.8" y="816" font-size="9.2" fill="#000" stroke="#000" stroke-width="0.3" text-anchor="start" >29 Dec 16:00</text>
<rect x="645" y="804" width="1" height="3" fill="#000"/>
<text x="643.8" y="816" font-size="9.2" fill="#000" stroke="#000" stroke-width="0.3" text-anchor="start" >30 Dec 08:00</text>
<rect x="709" y="804" width="1" height="3" fill="#000"/>
<text x="707.8" y="816" font-size="9.2" fill="#000" stroke="#000" stroke-width="0.3" text-anchor="start" >3 Jan 00:00</text>
<rect x="773" y="804" width="1" height="3" fill="#000"/>
<text x="771.8" y="816" font-size="9.2" fill="#000" stroke="#000" stroke-width="0.3" text-anchor="start" >3 Jan 16:00</text>
<rect x="837" y="804" width="1" height="3" fill="#000"/>
<text x="835.8" y="816" font-size="9.2" fill="#000" stroke="#000" stroke-width="0.3" text-anchor="start" >4 Jan 08:00</text>
<rect x="901" y="804" width="1" height="3" fill="#000"/>
<text x="899.8" y="816" font-size="9.2" fill="#000" stroke="#000" stroke-width="0.3" text-anchor="start" >5 Jan 00:00</text>
<rect x="965" y="804" width="1" height="3" fill="#000"/>
<text x="963.8" y="816" font-size="9.2" fill="#000" stroke="#000" stroke-width="0.3" text-anchor="start" >5 Jan 16:00</text>
<rect x="1029" y="804" width="1" height="3" fill="#000"/>
<text x="1027.8" y="816" font-size="9.2" fill="#000" stroke="#000" stroke-width="0.3" text-anchor="start" >6 Jan 08:00</text>
<rect x="1093" y="804" width="1" height="3" fill="#000"/>
<text x="1091.8" y="816" font-size="9.2" fill="#000" stroke="#000" stroke-width="0.3" text-anchor="start" >9 Jan 04:00</text>
<rect x="1157" y="804" width="1" height="3" fill="#000"/>
<text x="1155.8" y="816" font-size="9.2" fill="#000" stroke="#000" stroke-width="0.3" text-anchor="start" >9 Jan 20:00</text>
<rect x="1221" y="804" width="1" height="3" fill="#000"/>
<text x="1219.8" y="816" font-size="9.2" fill="#000" stroke="#000" stroke-width="0.3" text-anchor="start" >10 Jan 12:00</text>
<rect x="1285" y="804" width="1" height="3" fill="#000"/>
<text x="1283.8" y="816" font-size="9.2" fill="#000" stroke="#000" stroke-width="0.3" text-anchor="start" >11 Jan 04:00</text>
<rect x="1349" y="804" width="1" height="3" fill="#000"/>
<text x="1347.8" y="816" font-size="9.2" fill="#000" stroke="#000" stroke-width="0.3" text-anchor="start" >11 Jan 20:00</text>
<rect x="1413" y="804" width="1" height="3" fill="#000"/>
<text x="1411.8" y="816" font-size="9.2" fill="#000" stroke="#000" stroke-width="0.3" text-anchor="start" >12 Jan 12:00</text>
</svg>
<svg id="tb" width="1665" height="18" viewBox="0 0 1665 18" style="position:absolute;left:0;top:0;overflow:hidden" text-rendering="geometricPrecision">
<defs><pattern id="chk" width="2" height="2" patternUnits="userSpaceOnUse"><rect width="2" height="2" fill="#f0f0f0"/><rect width="1" height="1" fill="#fdfdfd"/><rect x="1" y="1" width="1" height="1" fill="#fdfdfd"/></pattern>
<linearGradient id="gold" x1="0" y1="0" x2="1" y2="1"><stop offset="0" stop-color="#fbe36a"/><stop offset="0.55" stop-color="#e2b62c"/><stop offset="1" stop-color="#b8801a"/></linearGradient>
<linearGradient id="badge" x1="0" y1="0" x2="0" y2="1"><stop offset="0" stop-color="#e8502e"/><stop offset="1" stop-color="#d42410"/></linearGradient>
<linearGradient id="blu" x1="0" y1="0" x2="0" y2="1"><stop offset="0" stop-color="#5fb4f5"/><stop offset="1" stop-color="#1a7be0"/></linearGradient>
<linearGradient id="grn" x1="0" y1="0" x2="1" y2="0"><stop offset="0" stop-color="#7be87b"/><stop offset="1" stop-color="#22b822"/></linearGradient>
</defs>
<rect x="0" y="0" width="1665" height="18" fill="#f0f0f0"/>
<rect x="0" y="17" width="1665" height="1" fill="#fafafa"/>
<rect x="0" y="8" width="4" height="3.6" fill="#12c212"/><rect x="0" y="11" width="4" height="1" fill="#0a8a0a"/>
<text x="7" y="9.3" font-size="12" font-weight="500" fill="#000">新订单</text>
<polygon points="59.6,-1 63.6,-1 71,6.4 71,8.2 62.8,13.6 55.2,8" fill="url(#gold)" stroke="#b07c18" stroke-width="0.8"/>
<path d="M55.6,8.6 L62.8,13.7 L71,8" stroke="#9a6a10" stroke-width="1.3" fill="none"/><path d="M63.4,12.2 L70.6,7" stroke="#f6e9a8" stroke-width="0.8" fill="none"/>
<rect x="86.5" y="-2" width="9.3" height="9" fill="url(#blu)"/><rect x="88.3" y="-2" width="1" height="8" fill="#d8eeff"/><rect x="90" y="2" width="4.6" height="1.2" fill="#e8f4ff"/>
<path d="M85.5,13.2 a3,3 0 0 1 -0.6,-5.6 a3.6,3.6 0 0 1 6.2,-1.2 a2.6,2.6 0 0 1 4.2,1.2 a2.9,2.9 0 0 1 1,5.6 z" fill="#eef3fa" stroke="#5a7fb5" stroke-width="0.9"/>
<defs><linearGradient id="sg" x1="0" y1="0" x2="1" y2="0"><stop offset="0.42" stop-color="#3a6fd8"/><stop offset="0.58" stop-color="#3aa83a"/></linearGradient></defs>
<g fill="none" stroke="url(#sg)"><circle cx="119.2" cy="5.9" r="2.8" stroke-width="1.1"/><circle cx="119.2" cy="5.9" r="5.3" stroke-width="1" stroke-opacity="0.75"/><circle cx="119.2" cy="5.9" r="7.7" stroke-width="1" stroke-opacity="0.45"/></g>
<path d="M119.4,6 V13.6" stroke="#1fa01f" stroke-width="1.4"/><circle cx="119.2" cy="5.6" r="1.6" fill="#2a5fd8"/>
<path d="M138.5,5.2 L153,4.6 L147,13.3 L144.5,13.3 Z" fill="#f7d64a" stroke="#d8a820" stroke-width="0.7"/>
<path d="M138,3.4 q0.5,-2.6 4,-3 q1,-3 4,-3 q3,0 4.2,3 q3.4,0.6 3.4,2.6 q-3,2.4 -8,2.4 q-5,0 -7.6,-2 z" fill="#58b4e8" stroke="#2a8ac8" stroke-width="0.6"/>
<circle cx="150.5" cy="9.9" r="4" fill="#e02a14"/><rect x="149" y="8.4" width="3" height="3" fill="#fff"/>
<text x="159.6" y="9.3" font-size="11.7" font-weight="500" fill="#000">自动交易</text>
<rect x="214" y="0" width="1" height="18" fill="#9a9a9a" shape-rendering="crispEdges"/><rect x="215" y="0" width="1" height="18" fill="#ffffff" shape-rendering="crispEdges"/>
<rect x="218" y="0" width="3" height="1" fill="#a8a8a8" shape-rendering="crispEdges"/>
<rect x="218" y="2" width="3" height="1" fill="#a8a8a8" shape-rendering="crispEdges"/>
<rect x="218" y="4" width="3" height="1" fill="#a8a8a8" shape-rendering="crispEdges"/>
<rect x="218" y="6" width="3" height="1" fill="#a8a8a8" shape-rendering="crispEdges"/>
<rect x="218" y="8" width="3" height="1" fill="#a8a8a8" shape-rendering="crispEdges"/>
<rect x="218" y="10" width="3" height="1" fill="#a8a8a8" shape-rendering="crispEdges"/>
<rect x="218" y="12" width="3" height="1" fill="#a8a8a8" shape-rendering="crispEdges"/>
<rect x="218" y="14" width="3" height="1" fill="#a8a8a8" shape-rendering="crispEdges"/>
<path d="M232.4 0V14M230 11.7H242.6" stroke="#555" stroke-width="1.1" fill="none"/>
<polygon points="241.1,9.7 243.6,11.7 241.1,13.7" fill="#555"/>
<polygon points="230.6,1.6 232.4,-0.6 234.20000000000002,1.6" fill="#555"/>
<path d="M238.5,1.3V9.6M238.5,2.6H241M236,8.5H238.5" stroke="#168a16" stroke-width="1.3" fill="none"/>
<rect x="252" y="0" width="1" height="16" fill="#8c8c8c" shape-rendering="crispEdges"/>
<rect x="253" y="0" width="24" height="16" fill="url(#chk)"/>
<path d="M260.3 0V14M258.2 11.7H270.7" stroke="#555" stroke-width="1.1" fill="none"/>
<polygon points="269.2,9.7 271.7,11.7 269.2,13.7" fill="#555"/>
<polygon points="258.5,1.6 260.3,-0.6 262.1,1.6" fill="#555"/>
<rect x="264.3" y="-1" width="4.4" height="8.6" fill="url(#grn)" stroke="#128a12" stroke-width="0.9"/><path d="M266.5,7.6V9.8" stroke="#128a12" stroke-width="1.2"/>
<path d="M288.4 0V14M286.2 11.7H298.8" stroke="#555" stroke-width="1.1" fill="none"/>
<polygon points="297.3,9.7 299.8,11.7 297.3,13.7" fill="#555"/>
<polygon points="286.59999999999997,1.6 288.4,-0.6 290.2,1.6" fill="#555"/>
<path d="M287.2,8.8 Q290.5,3.6 292.8,3.4 Q294.6,3.4 298.5,7" stroke="#2a9a2a" stroke-width="1.2" fill="none"/>
<rect x="309" y="0" width="1" height="16" fill="#8c8c8c" shape-rendering="crispEdges"/>
<path d="M327.6,8.6 L333.2,13" stroke="#b89414" stroke-width="3.4"/><path d="M327.8,8.4 L333.2,12.6" stroke="#f0d848" stroke-width="1.6"/>
<circle cx="324" cy="4.2" r="5.6" fill="#dff2fd" stroke="#2a74c4" stroke-width="1.1"/>
<path d="M320.6,4.6H327.4M324,1.2V8" stroke="#3a80a8" stroke-width="1.6"/>
<path d="M355.6,8.6 L361.2,13" stroke="#b89414" stroke-width="3.4"/><path d="M355.8,8.4 L361.2,12.6" stroke="#f0d848" stroke-width="1.6"/>
<circle cx="352" cy="4.2" r="5.6" fill="#dff2fd" stroke="#2a74c4" stroke-width="1.1"/>
<path d="M349,4.2H355" stroke="#3a80a8" stroke-width="1.6"/>
<rect x="374.2" y="-1" width="7.6" height="7.2" fill="#3f9a1a"/><rect x="381.9" y="-1" width="8" height="7.2" fill="#1f4fc8"/><rect x="374.2" y="6.5" width="7.6" height="7.4" fill="#2456d0"/><rect x="381.9" y="6.5" width="8" height="7.4" fill="#3da21a"/>
<rect x="375.3" y="1" width="5.8" height="4" fill="#fff"/><rect x="383" y="1" width="5.8" height="4" fill="#fff"/><rect x="375.3" y="8.6" width="5.8" height="4.2" fill="#fff"/><rect x="383" y="8.6" width="5.8" height="4.2" fill="#fff"/>
<rect x="376.3" y="2.4" width="3.6" height="0.9" fill="#a8d890"/><rect x="384" y="2.4" width="3.6" height="0.9" fill="#a0b4f0"/><rect x="376.3" y="10" width="3.6" height="0.9" fill="#a0b4f0"/><rect x="384" y="10" width="3.6" height="0.9" fill="#a8d890"/>
<rect x="399" y="0" width="1" height="16" fill="#8c8c8c" shape-rendering="crispEdges"/>
<rect x="404" y="0" width="1" height="16" fill="#8c8c8c" shape-rendering="crispEdges"/>
<rect x="405" y="0" width="24" height="16" fill="url(#chk)"/>
<path d="M412.3 0V14M410.2 11.7H422.7" stroke="#555" stroke-width="1.1" fill="none"/>
<polygon points="421.2,9.7 423.7,11.7 421.2,13.7" fill="#555"/>
<polygon points="410.5,1.6 412.3,-0.6 414.1,1.6" fill="#555"/>
<polygon points="417.1,2.3 417.1,8.6 421.1,5.5" fill="#7be07b" stroke="#169a16" stroke-width="1"/>
<rect x="432" y="0" width="1" height="16" fill="#8c8c8c" shape-rendering="crispEdges"/>
<rect x="433" y="0" width="24" height="16" fill="url(#chk)"/>
<path d="M440.4 0V14M438.3 11.7H450.8" stroke="#555" stroke-width="1.1" fill="none"/>
<polygon points="449.3,9.7 451.8,11.7 449.3,13.7" fill="#555"/>
<polygon points="438.59999999999997,1.6 440.4,-0.6 442.2,1.6" fill="#555"/>
<path d="M446.5,0V9.9" stroke="#1a6fa8" stroke-width="1.2"/><path d="M447.3,5.6H452M447.3,5.6l2.6,-2.2M447.3,5.6l2.6,2.2" stroke="#d84a00" stroke-width="1.1" fill="none"/>
<rect x="461" y="0" width="1" height="16" fill="#8c8c8c" shape-rendering="crispEdges"/>
<path d="M471.5,-1 H480 L482.8,2 V11.4 H471.5 Z" fill="#fff" stroke="#9a9a9a" stroke-width="0.8"/><path d="M474,3V8" stroke="#777" stroke-width="1"/>
<path d="M478.9,4.3H483.2V8.3H486.8V11.9H483.2V15.9H478.9V11.9H475.3V8.3H478.9Z" fill="#2fd02f" stroke="#0c8c0c" stroke-width="0.9"/>
<polygon points="492.8,5 498.2,5 495.5,7.9" fill="#000"/>
<circle cx="517.1" cy="5.9" r="6.6" fill="#f2f2f2" stroke="#1a78d8" stroke-width="2.8"/><circle cx="517.1" cy="5.9" r="7.8" fill="none" stroke="#0c58b0" stroke-width="0.6"/><circle cx="517.1" cy="5.9" r="4.2" fill="none" stroke="#999" stroke-width="0.7" stroke-dasharray="0.7 1.5"/><path d="M516.6,2.2V6.2H519.6" stroke="#111" stroke-width="1.1" fill="none"/>
<polygon points="532,5 537.4,5 534.7,7.9" fill="#000"/>
<rect x="548.6" y="-1" width="14.8" height="13.6" fill="#fff" stroke="#3a7fd0" stroke-width="0.9"/><rect x="548.6" y="-1" width="14.8" height="2.6" fill="#4a8fe0"/><path d="M549,7H563" stroke="#5a94e0" stroke-width="0.8"/>
<path d="M550.2,5.4 L552.5,5.2 L554,3.6 L555.8,3.4 L557,4.6 L559.5,4.4 L561.6,3.2" stroke="#a82a0a" stroke-width="1.1" fill="none"/><path d="M551,10.4 L553.6,9.4 L555.6,10.6 L557.4,10 L559,8.2 L560.4,8.6 L561.8,10.4" stroke="#0a9a2a" stroke-width="1.1" fill="none"/>
<polygon points="571,5 576.4,5 573.7,7.9" fill="#000"/>
<rect x="582" y="0" width="1" height="18" fill="#9a9a9a" shape-rendering="crispEdges"/><rect x="583" y="0" width="1" height="18" fill="#ffffff" shape-rendering="crispEdges"/>
<rect x="586" y="0" width="3" height="1" fill="#a8a8a8" shape-rendering="crispEdges"/>
<rect x="586" y="2" width="3" height="1" fill="#a8a8a8" shape-rendering="crispEdges"/>
<rect x="586" y="4" width="3" height="1" fill="#a8a8a8" shape-rendering="crispEdges"/>
<rect x="586" y="6" width="3" height="1" fill="#a8a8a8" shape-rendering="crispEdges"/>
<rect x="586" y="8" width="3" height="1" fill="#a8a8a8" shape-rendering="crispEdges"/>
<rect x="586" y="10" width="3" height="1" fill="#a8a8a8" shape-rendering="crispEdges"/>
<rect x="586" y="12" width="3" height="1" fill="#a8a8a8" shape-rendering="crispEdges"/>
<rect x="586" y="14" width="3" height="1" fill="#a8a8a8" shape-rendering="crispEdges"/>
<rect x="592" y="0" width="1" height="16" fill="#8c8c8c" shape-rendering="crispEdges"/>
<rect x="593" y="0" width="24" height="16" fill="url(#chk)"/>
<polygon points="600.3,-2 600.3,10 602.6,7.8 605.2,13 607,12.2 604.6,7 608.2,6.4" fill="#4a4a4a"/>
<path d="M625,6.5H640M632.5,0V14" stroke="#4a4a4a" stroke-width="1.1"/>
<rect x="649" y="0" width="1" height="16" fill="#8c8c8c" shape-rendering="crispEdges"/>
<path d="M666.5,0V13" stroke="#4a4a4a" stroke-width="1.1"/>
<path d="M689,6.5H701" stroke="#4a4a4a" stroke-width="1.2"/>
<path d="M717,12.9L729.2,0.7" stroke="#4a4a4a" stroke-width="1.1"/>
<g stroke="#333" stroke-width="1.2" fill="none"><path d="M743.5,8L752,-0.5M745.6,12.6L758,0.2M748,13L757,4"/><path d="M746.5,6.5l1.5,5M749,4l1.5,5M751.5,1.5l1.5,5M754,0l1.5,4"/></g>
<text x="753.6" y="15" font-size="7" font-weight="bold" fill="#333">E</text>
<rect x="772" y="2" width="1" height="1" fill="#4a4a4a" shape-rendering="crispEdges"/>
<rect x="774" y="2" width="1" height="1" fill="#4a4a4a" shape-rendering="crispEdges"/>
<rect x="776" y="2" width="1" height="1" fill="#4a4a4a" shape-rendering="crispEdges"/>
<rect x="778" y="2" width="1" height="1" fill="#4a4a4a" shape-rendering="crispEdges"/>
<rect x="780" y="2" width="1" height="1" fill="#4a4a4a" shape-rendering="crispEdges"/>
<rect x="782" y="2" width="1" height="1" fill="#4a4a4a" shape-rendering="crispEdges"/>
<rect x="784" y="2" width="1" height="1" fill="#4a4a4a" shape-rendering="crispEdges"/>
<rect x="772" y="6" width="1" height="1" fill="#4a4a4a" shape-rendering="crispEdges"/>
<rect x="774" y="6" width="1" height="1" fill="#4a4a4a" shape-rendering="crispEdges"/>
<rect x="776" y="6" width="1" height="1" fill="#4a4a4a" shape-rendering="crispEdges"/>
<rect x="778" y="6" width="1" height="1" fill="#4a4a4a" shape-rendering="crispEdges"/>
<rect x="780" y="6" width="1" height="1" fill="#4a4a4a" shape-rendering="crispEdges"/>
<rect x="782" y="6" width="1" height="1" fill="#4a4a4a" shape-rendering="crispEdges"/>
<rect x="784" y="6" width="1" height="1" fill="#4a4a4a" shape-rendering="crispEdges"/>
<rect x="772" y="10" width="1" height="1" fill="#4a4a4a" shape-rendering="crispEdges"/>
<rect x="774" y="10" width="1" height="1" fill="#4a4a4a" shape-rendering="crispEdges"/>
<rect x="776" y="10" width="1" height="1" fill="#4a4a4a" shape-rendering="crispEdges"/>
<rect x="778" y="10" width="1" height="1" fill="#4a4a4a" shape-rendering="crispEdges"/>
<rect x="780" y="10" width="1" height="1" fill="#4a4a4a" shape-rendering="crispEdges"/>
<text x="781.4" y="15" font-size="7" font-weight="bold" fill="#333">F</text>
<text x="802.6" y="10.9" font-size="12" fill="#555" stroke="#555" stroke-width="0.3" textLength="8" lengthAdjust="spacingAndGlyphs">A</text>
<rect x="829" y="12" width="1" height="1" fill="#4a4a4a" shape-rendering="crispEdges"/>
<rect x="829" y="0" width="1" height="1" fill="#4a4a4a" shape-rendering="crispEdges"/>
<rect x="831" y="12" width="1" height="1" fill="#4a4a4a" shape-rendering="crispEdges"/>
<rect x="831" y="0" width="1" height="1" fill="#4a4a4a" shape-rendering="crispEdges"/>
<rect x="833" y="12" width="1" height="1" fill="#4a4a4a" shape-rendering="crispEdges"/>
<rect x="833" y="0" width="1" height="1" fill="#4a4a4a" shape-rendering="crispEdges"/>
<rect x="835" y="12" width="1" height="1" fill="#4a4a4a" shape-rendering="crispEdges"/>
<rect x="835" y="0" width="1" height="1" fill="#4a4a4a" shape-rendering="crispEdges"/>
<rect x="837" y="12" width="1" height="1" fill="#4a4a4a" shape-rendering="crispEdges"/>
<rect x="837" y="0" width="1" height="1" fill="#4a4a4a" shape-rendering="crispEdges"/>
<rect x="839" y="12" width="1" height="1" fill="#4a4a4a" shape-rendering="crispEdges"/>
<rect x="839" y="0" width="1" height="1" fill="#4a4a4a" shape-rendering="crispEdges"/>
<rect x="841" y="12" width="1" height="1" fill="#4a4a4a" shape-rendering="crispEdges"/>
<rect x="841" y="0" width="1" height="1" fill="#4a4a4a" shape-rendering="crispEdges"/>
<rect x="829" y="0" width="1" height="1" fill="#4a4a4a" shape-rendering="crispEdges"/><rect x="841" y="0" width="1" height="1" fill="#4a4a4a" shape-rendering="crispEdges"/>
<rect x="829" y="2" width="1" height="1" fill="#4a4a4a" shape-rendering="crispEdges"/><rect x="841" y="2" width="1" height="1" fill="#4a4a4a" shape-rendering="crispEdges"/>
<rect x="829" y="4" width="1" height="1" fill="#4a4a4a" shape-rendering="crispEdges"/><rect x="841" y="4" width="1" height="1" fill="#4a4a4a" shape-rendering="crispEdges"/>
<rect x="829" y="6" width="1" height="1" fill="#4a4a4a" shape-rendering="crispEdges"/><rect x="841" y="6" width="1" height="1" fill="#4a4a4a" shape-rendering="crispEdges"/>
<rect x="829" y="8" width="1" height="1" fill="#4a4a4a" shape-rendering="crispEdges"/><rect x="841" y="8" width="1" height="1" fill="#4a4a4a" shape-rendering="crispEdges"/>
<rect x="829" y="10" width="1" height="1" fill="#4a4a4a" shape-rendering="crispEdges"/><rect x="841" y="10" width="1" height="1" fill="#4a4a4a" shape-rendering="crispEdges"/>
<rect x="829" y="12" width="1" height="1" fill="#4a4a4a" shape-rendering="crispEdges"/><rect x="841" y="12" width="1" height="1" fill="#4a4a4a" shape-rendering="crispEdges"/>
<text x="831.2" y="10.9" font-size="12" fill="#555" stroke="#555" stroke-width="0.3">T</text>
<polygon points="856,4.3 859.6,-0.4 863.3,4.3" fill="#4a4a4a"/><polygon points="863,8.6 870.2,8.6 866.6,12.9" fill="#4a4a4a"/><path d="M858.5,7.6L860.6,9.6L864.6,4.4" stroke="#4a4a4a" stroke-width="1.3" fill="none"/>
<polygon points="876.8,5 882.1999999999999,5 879.5,7.9" fill="#000"/>
<rect x="888" y="0" width="1" height="18" fill="#9a9a9a" shape-rendering="crispEdges"/><rect x="889" y="0" width="1" height="18" fill="#ffffff" shape-rendering="crispEdges"/>
<rect x="892" y="0" width="3" height="1" fill="#a8a8a8" shape-rendering="crispEdges"/>
<rect x="892" y="2" width="3" height="1" fill="#a8a8a8" shape-rendering="crispEdges"/>
<rect x="892" y="4" width="3" height="1" fill="#a8a8a8" shape-rendering="crispEdges"/>
<rect x="892" y="6" width="3" height="1" fill="#a8a8a8" shape-rendering="crispEdges"/>
<rect x="892" y="8" width="3" height="1" fill="#a8a8a8" shape-rendering="crispEdges"/>
<rect x="892" y="10" width="3" height="1" fill="#a8a8a8" shape-rendering="crispEdges"/>
<rect x="892" y="12" width="3" height="1" fill="#a8a8a8" shape-rendering="crispEdges"/>
<rect x="892" y="14" width="3" height="1" fill="#a8a8a8" shape-rendering="crispEdges"/>
<text x="903.3" y="10" font-size="9.4" fill="#2a2a2a">M1</text>
<text x="931.4" y="10" font-size="9.4" fill="#2a2a2a">M5</text>
<text x="957.3" y="10" font-size="9.4" fill="#2a2a2a">M15</text>
<text x="985.4" y="10" font-size="9.4" fill="#2a2a2a">M30</text>
<text x="1016.3" y="10" font-size="9.4" fill="#2a2a2a">H1</text>
<rect x="1038" y="0" width="1" height="16" fill="#8c8c8c" shape-rendering="crispEdges"/>
<rect x="1039" y="0" width="24" height="16" fill="url(#chk)"/>
<text x="1043.3" y="10" font-size="9.4" fill="#2a2a2a">H4</text>
<text x="1072" y="10" font-size="9.4" fill="#2a2a2a">D1</text>
<text x="1100" y="10" font-size="9.4" fill="#2a2a2a">W1</text>
<text x="1126.2" y="10" font-size="9.4" fill="#2a2a2a">MN</text>
<rect x="1149" y="0" width="1" height="18" fill="#9a9a9a" shape-rendering="crispEdges"/><rect x="1150" y="0" width="1" height="18" fill="#ffffff" shape-rendering="crispEdges"/>
<path d="M1616.2,7 L1612,11" stroke="#2a58c8" stroke-width="2.6"/><circle cx="1619.4" cy="3.5" r="3.9" fill="#fbfbff" stroke="#2a62d0" stroke-width="1.2"/>
<path d="M1642,3.6 q-5.6,0 -5.6,4.4 q0,3.6 3.6,4.4 l-0.4,2.2 l2.4,-2 q6,0.2 6,-4.6 q0,-4.4 -6,-4.4 z" fill="#e6e6f2" stroke="#a8a8a8" stroke-width="0.8"/>
<circle cx="1650.5" cy="3.6" r="8.4" fill="url(#badge)"/>
<text x="1646.2" y="8" font-size="12.5" font-weight="bold" fill="#fff" font-family="Liberation Serif, serif" style="font-family:'Liberation Serif',serif">1</text>
</svg>
</body></html>
